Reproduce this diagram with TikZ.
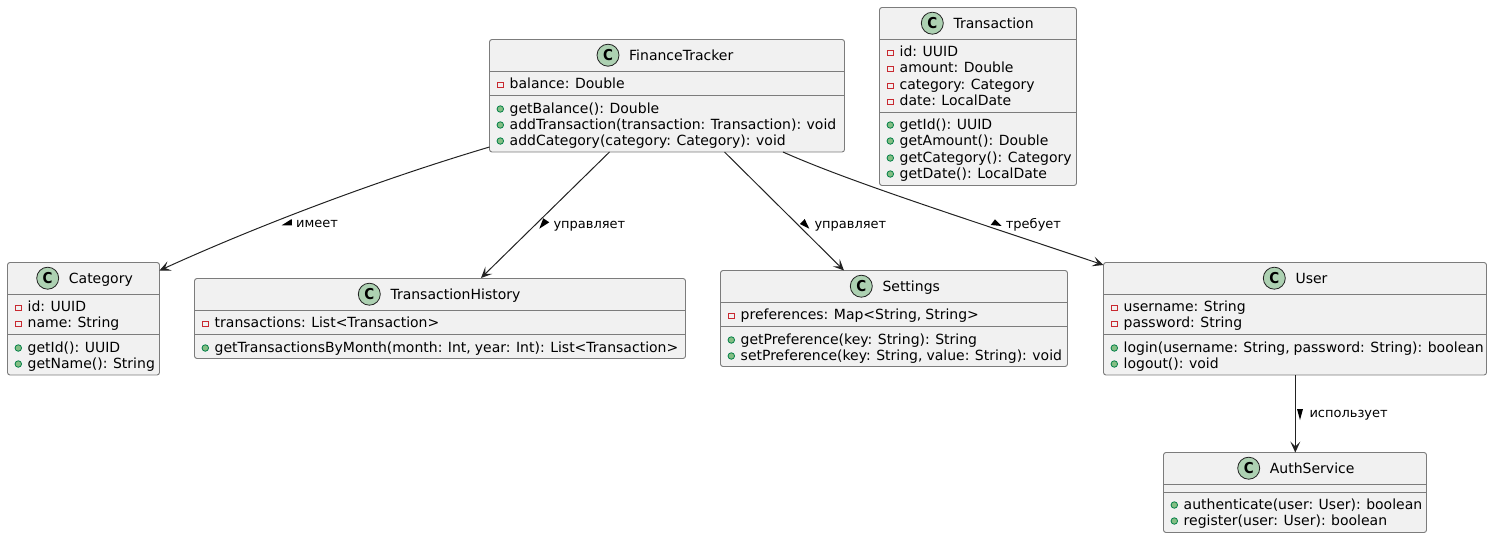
\documentclass[tikz,border=0pt]{standalone}
\usepackage{fontspec}
\setmainfont{DejaVu Sans}
\newfontfamily\cfont{DejaVu Sans Condensed Bold}
\usetikzlibrary{calc,arrows.meta}
\definecolor{boxfill}{HTML}{F1F1F1}
\definecolor{boxline}{HTML}{7C7C7C}
\definecolor{edgeline}{HTML}{222222}
\definecolor{spotfill}{HTML}{ADD1B2}
\definecolor{fieldred}{HTML}{C82930}
\definecolor{methodgreen}{HTML}{038048}
\definecolor{methodfill}{HTML}{84BE84}
\tikzset{
  umlbox/.style={draw=boxline,fill=boxfill,line width=.9pt,rounded corners=2.5pt,inner sep=0pt,outer sep=0pt},
  divider/.style={draw=boxline,line width=.9pt},
  spot/.style={circle,draw=edgeline,fill=spotfill,line width=.8pt,minimum size=22pt,inner sep=0pt,font=\fontsize{15}{15}\cfont},
  titletext/.style={anchor=base west,inner sep=0pt,font=\fontsize{14}{14}\selectfont,text=black},
  rowtext/.style={anchor=base west,inner sep=0pt,font=\fontsize{14}{14}\selectfont,text=black},
  fieldicon/.style={draw=fieldred,line width=.9pt,fill=none,minimum size=5.5pt,inner sep=0pt},
  methodicon/.style={circle,draw=methodgreen,fill=methodfill,line width=.8pt,minimum size=6.5pt,inner sep=0pt},
  edgelabel/.style={anchor=base west,inner sep=0pt,font=\fontsize{13}{13}\selectfont,text=black},
  conn/.style={draw=edgeline,line width=1pt,-{Stealth[length=11pt,width=10pt,inset=5pt,fill=edgeline]}},
  dirmark/.style={fill=black,draw=none},
}
\newcount\rowc
\newcommand{\umlclass}[9]{%
  \pgfmathsetmacro\bcx{(#2+#4)/2}%
  \pgfmathsetmacro\bcy{(#3+#5)/2}%
  \pgfmathsetmacro\bw{#4-#2}%
  \pgfmathsetmacro\bh{#5-#3}%
  \pgfmathsetmacro\rowi{#2+10.8}%
  \pgfmathsetmacro\rowt{#2+20}%
  \def\curid{#1}\rowc=0
  \node[umlbox,minimum width=\bw pt,minimum height=\bh pt] (#1) at (\bcx,\bcy) {};
  \draw[divider] (#2,#6) -- (#4,#6);
  \draw[divider] (#2,#7) -- (#4,#7);
  \pgfmathsetmacro\spy{#3+15.7}%
  \pgfmathsetmacro\tty{#3+20.5}%
  \pgfmathsetmacro\ttx{#8+21}%
  \node[spot] (#1-spot) at (#8,\spy) {C};
  \node[titletext] (#1-title) at (\ttx,\tty) {#9};
}
\newcommand{\fld}[2]{%
  \advance\rowc by 1
  \pgfmathsetmacro\icy{#1-3}%
  \node[fieldicon] (\curid-i\the\rowc) at (\rowi,\icy) {};
  \node[rowtext] (\curid-r\the\rowc) at (\rowt,#1) {\spaceskip=4pt\relax #2};
}
\newcommand{\mth}[2]{%
  \advance\rowc by 1
  \pgfmathsetmacro\icy{#1-4}%
  \node[methodicon] (\curid-i\the\rowc) at (\rowi,\icy) {};
  \node[rowtext] (\curid-r\the\rowc) at (\rowt,#1) {\spaceskip=4pt\relax #2};
}
\begin{document}
\begin{tikzpicture}[x=1pt,y=-1pt]
\useasboundingbox (0,0) rectangle (1492,538);

\umlclass{ft}{489.5}{39.5}{844.5}{152}{71.7}{95.7}{608}{FinanceTracker}
\fld{88}{balance: Double}
\mth{113}{getBalance(): Double}
\mth{129}{addTransaction(transaction: Transaction): void}
\mth{145}{addCategory(category: Category): void}

\umlclass{tr}{879.5}{7.5}{1076.5}{185.5}{39.5}{112.5}{932.3}{Transaction}
\fld{56}{id: UUID}
\fld{72}{amount: Double}
\fld{89}{category: Category}
\fld{105}{date: LocalDate}
\mth{129}{getId(): UUID}
\mth{145}{getAmount(): Double}
\mth{162}{getCategory(): Category}
\mth{178}{getDate(): LocalDate}

\umlclass{cat}{7.5}{262.5}{159.5}{375}{294.5}{334.5}{47.7}{Category}
\fld{311}{id: UUID}
\fld{327}{name: String}
\mth{352}{getId(): UUID}
\mth{368}{getName(): String}

\umlclass{th}{194.5}{278.5}{685.5}{358.5}{310.5}{334.5}{369.3}{TransactionHistory}
\fld{327}{transactions: List<Transaction>}
\mth{352}{getTransactionsByMonth(month: Int, year: Int): List<Transaction>}

\umlclass{st}{720.5}{270.5}{1067.5}{366.5}{302.5}{326.5}{861.3}{Settings}
\fld{319}{preferences: Map<String, String>}
\mth{344}{getPreference(key: String): String}
\mth{360}{setPreference(key: String, value: String): void}

\umlclass{us}{1103.5}{262.5}{1486.5}{375}{294.5}{334.5}{1274.3}{User}
\fld{311}{username: String}
\fld{327}{password: String}
\mth{352}{login(username: String, password: String): boolean}
\mth{368}{logout(): void}

\umlclass{au}{1163.5}{452.5}{1426.5}{532.5}{484.5}{492.5}{1248.7}{AuthService}
\mth{509}{authenticate(user: User): boolean}
\mth{525}{register(user: User): boolean}

\draw[conn] ($(ft.south west)+(0,-5)$) .. controls ($(ft.south west)+(-114.5,29)$) and ($(cat.north east)+(95.5,-35.5)$) .. ($(cat.north east)+(0,8)$);
\draw[conn] ($(ft.south west)+(120,0)$) -- ($(th.north west)+(286.5,-0.5)$);
\draw[conn] ($(ft.south west)+(235,0)$) -- ($(st.north west)+(123.5,0)$);
\draw[conn] ($(ft.south east)+(-61.5,0)$) .. controls ($(ft.south east)+(5.5,30)$) and ($(us.north west)+(-133.5,-42.5)$) .. ($(us.north west)+(0,2.5)$);
\draw[conn] ($(us.south west)+(191.8,0)$) -- ($(au.north west)+(131.8,0)$);

\fill[dirmark] (281.7,225.3) -- (292,225.3) -- (291.7,219) -- cycle;
\node[edgelabel] (l1) at (296,227.7) {имеет};
\fill[dirmark] (539.3,228.7) -- (549.3,222.3) -- (543.3,218.3) -- cycle;
\node[edgelabel] (l2) at (553.3,228) {управляет};
\fill[dirmark] (800,224) -- (804.7,219) -- (809.3,228.7) -- cycle;
\node[edgelabel] (l3) at (814.3,228) {управляет};
\fill[dirmark] (990.7,225) -- (995,219.3) -- (1001.7,226) -- cycle;
\node[edgelabel] (l4) at (1005.7,228) {требует};
\fill[dirmark] (1297,409) -- (1303,409) -- (1300,420) -- cycle;
\node[edgelabel] (l5) at (1309.3,417.7) {использует};
\end{tikzpicture}
\end{document}
